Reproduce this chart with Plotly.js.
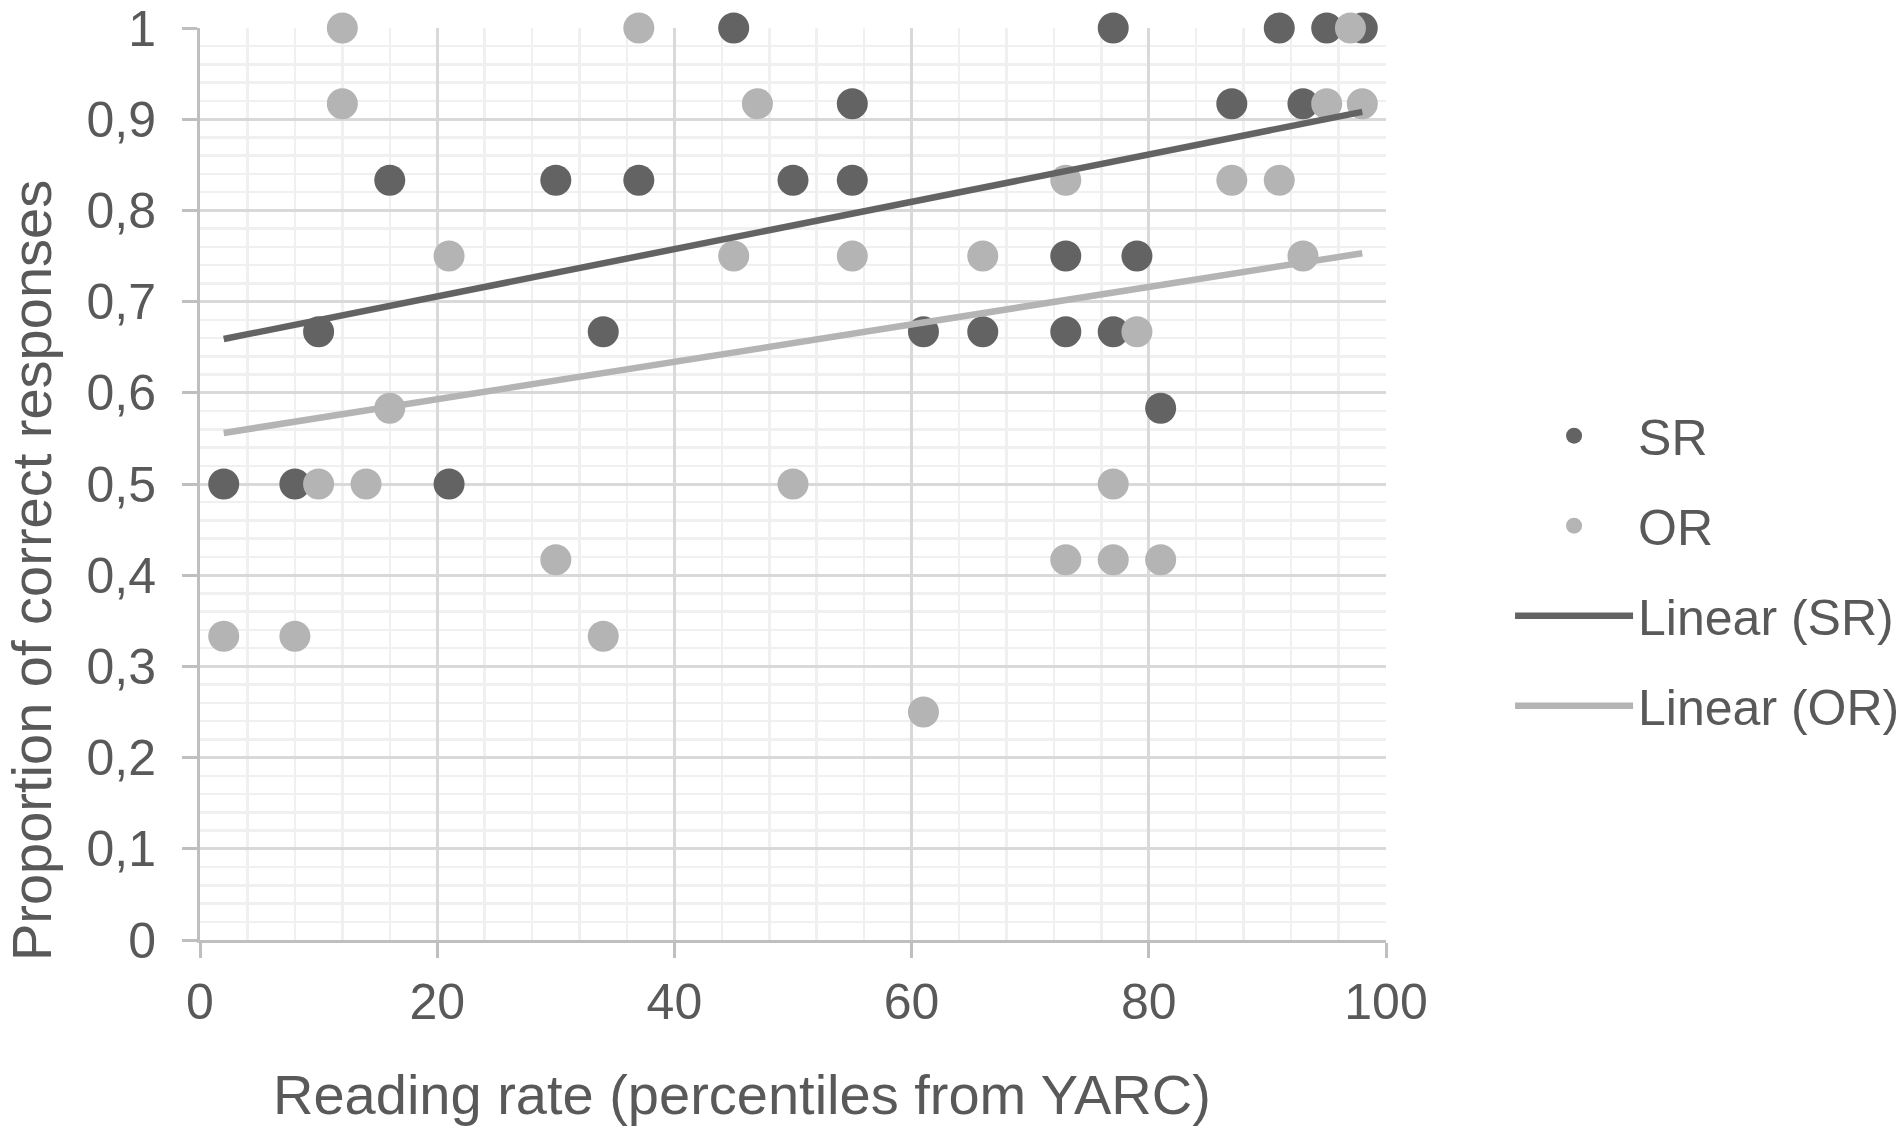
<!DOCTYPE html>
<html>
<head>
<meta charset="utf-8">
<script src="https://cdn.plot.ly/plotly-3.0.1.min.js"></script>
<style>
  html, body { margin: 0; padding: 0; background: #fff; }
  #chart { width: 1901px; height: 1132px; }
</style>
</head>
<body>
<div id="chart"></div>
<script>
// Data

// SR: subject relatives, reading rate percentile vs proportion correct
const srX = [2, 8, 10, 16, 21, 30, 34, 37, 45, 50, 55, 55, 61, 66, 73, 73, 77, 77, 79, 81, 87, 91, 93, 95, 98];
const srY = [0.5, 0.5, 0.667, 0.833, 0.5, 0.833, 0.667, 0.833, 1, 0.833, 0.917, 0.833, 0.667, 0.667, 0.75, 0.667, 1, 0.667, 0.75, 0.583, 0.917, 1, 0.917, 1, 1];

// OR: object relatives
const orX = [2, 8, 10, 12, 12, 14, 16, 21, 30, 34, 37, 45, 47, 50, 55, 61, 66, 73, 73, 77, 77, 79, 81, 87, 91, 93, 95, 97, 98];
const orY = [0.333, 0.333, 0.5, 1, 0.917, 0.5, 0.583, 0.75, 0.417, 0.333, 1, 0.75, 0.917, 0.5, 0.75, 0.25, 0.75, 0.833, 0.417, 0.5, 0.417, 0.667, 0.417, 0.833, 0.833, 0.75, 0.917, 1, 0.917];

// linear trendline ends, as drawn
const trendX = [2, 98];
const srTrendY = [0.659, 0.908];
const orTrendY = [0.556, 0.753];

const seriesNames = ["SR", "OR", "Linear (SR)", "Linear (OR)"];
const xTitle = "Reading rate (percentiles from YARC)";
const yTitle = "Proportion of correct responses";

// Styles

const DARK = "#636363";
const LIGHT = "#b4b4b4";
const TEXT = "#595959";
const FONT = '"Liberation Sans", Arial, sans-serif';

const data = [
  {
    x: srX,
    y: srY,
    name: seriesNames[0],
    legendgroup: "sr",
    type: "scatter",
    mode: "markers",
    cliponaxis: false,
    marker: { color: DARK, size: 31 },
  },
  {
    x: orX,
    y: orY,
    name: seriesNames[1],
    legendgroup: "or",
    type: "scatter",
    mode: "markers",
    cliponaxis: false,
    marker: { color: LIGHT, size: 31 },
  },
  {
    x: trendX,
    y: srTrendY,
    name: seriesNames[2],
    legendgroup: "srfit",
    type: "scatter",
    mode: "lines",
    line: { color: DARK, width: 6.5 },
  },
  {
    x: trendX,
    y: orTrendY,
    name: seriesNames[3],
    legendgroup: "orfit",
    type: "scatter",
    mode: "lines",
    line: { color: LIGHT, width: 6.5 },
  },
];

const axisCommon = {
  showline: true,
  linecolor: "#bfbfbf",
  linewidth: 3,
  ticks: "outside",
  ticklen: 15,
  tickwidth: 3,
  tickcolor: "#bfbfbf",
  showgrid: true,
  gridcolor: "#d9d9d9",
  gridwidth: 3,
  zeroline: false,
  tickfont: { family: FONT, size: 50, color: TEXT },
};

const layout = {
  width: 1901,
  height: 1132,
  // fixed plot box, the legend must not push it around
  margin: { l: 200, r: 515, t: 28, b: 192, autoexpand: false },
  paper_bgcolor: "#ffffff",
  plot_bgcolor: "#ffffff",
  separators: ", ",
  font: { family: FONT, color: TEXT },
  showlegend: true,
  xaxis: Object.assign({}, axisCommon, {
    range: [0, 100],
    tick0: 0,
    dtick: 20,
    ticklabelstandoff: 1,
    minor: { dtick: 4, showgrid: true, gridcolor: "#f0f0f0", gridwidth: 2.5 },
  }),
  yaxis: Object.assign({}, axisCommon, {
    range: [0, 1],
    tick0: 0,
    dtick: 0.1,
    ticklabelstandoff: 16,
    minor: { dtick: 0.02, showgrid: true, gridcolor: "#f0f0f0", gridwidth: 2.5 },
  }),
  legend: {
    x: 1.1046,
    xanchor: "left",
    y: 0.405,
    yanchor: "middle",
    itemwidth: 118,
    tracegroupgap: 22,
    bgcolor: "rgba(0,0,0,0)",
    font: { family: FONT, size: 50, color: TEXT },
  },
  annotations: [
    {
      text: xTitle,
      xref: "paper",
      yref: "paper",
      x: 0.457,
      y: -0.169,
      xanchor: "center",
      yanchor: "middle",
      showarrow: false,
      font: { family: FONT, size: 56, color: TEXT },
    },
    {
      text: yTitle,
      xref: "paper",
      yref: "paper",
      x: -0.1425,
      y: 0.4056,
      xanchor: "center",
      yanchor: "middle",
      textangle: -90,
      showarrow: false,
      font: { family: FONT, size: 56, color: TEXT },
    },
  ],
};

Plotly.newPlot("chart", data, layout, {
  displayModeBar: false,
  staticPlot: true,
});
</script>
</body>
</html>
